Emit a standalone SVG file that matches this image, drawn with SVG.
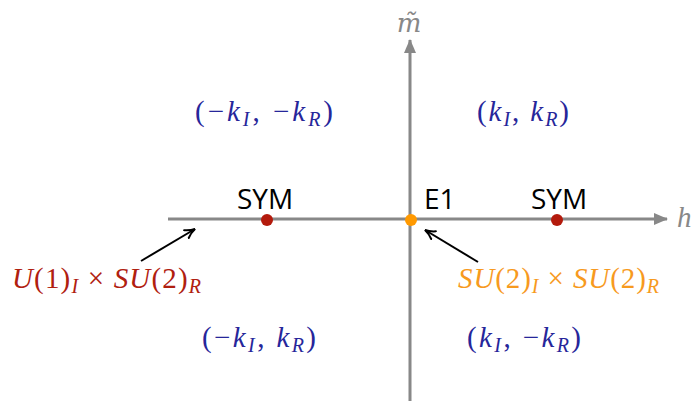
<svg xmlns="http://www.w3.org/2000/svg" width="693" height="401" viewBox="0 0 693 401">
<defs>
<marker id="grayhead" viewBox="0 0 14 12" refX="13" refY="6" markerWidth="14" markerHeight="12" markerUnits="userSpaceOnUse" orient="auto">
<path d="M0,0 L14,6 L0,12 Z" fill="#888888"/>
</marker>
<marker id="openhead" viewBox="0 0 12 12" refX="11" refY="6" markerWidth="12" markerHeight="12" markerUnits="userSpaceOnUse" orient="auto">
<path d="M1,1.5 Q6,5 11,6 Q6,7 1,10.5" fill="none" stroke="#000" stroke-width="2" stroke-linecap="round"/>
</marker>
</defs>
<style>
.axis{stroke:#888888;stroke-width:3;fill:none}
.ptr{stroke:#000;stroke-width:2;fill:none}
.sans{font-family:'Open Sans',sans-serif;font-size:28px;fill:#000}
.math{font-family:'Liberation Serif',serif;font-size:29px}
.it{font-style:italic}
.sub{font-style:italic;font-size:20px}
.blue{fill:#26269a}
.red{fill:#b0200f}
.orange{fill:#f79a1e}
.gray{fill:#888888}
</style>
<g id="connectors">
<line class="axis" x1="168" y1="219" x2="667" y2="219" marker-end="url(#grayhead)"/>
<line class="axis" x1="410" y1="401" x2="410" y2="40" marker-end="url(#grayhead)"/>
<line class="ptr" x1="141" y1="261" x2="195" y2="229" marker-end="url(#openhead)"/>
<line class="ptr" x1="478" y1="262" x2="425" y2="230" marker-end="url(#openhead)"/>
</g>
<g id="axis-h"><text class="math it gray" x="677" y="227" font-size="30">h</text></g>
<g id="axis-m"><text class="it gray" font-family="DejaVu Serif, serif" x="409" y="32" text-anchor="middle" font-size="26">m̃</text></g>
<g id="sym-left">
<circle cx="267" cy="220" r="6" fill="#b31a0c"/>
<text class="sans" x="265" y="209" text-anchor="middle">SYM</text>
</g>
<g id="e1">
<circle cx="411" cy="220" r="6" fill="#ff9900"/>
<text class="sans" x="424" y="209">E1</text>
</g>
<g id="sym-right">
<circle cx="557" cy="220" r="6" fill="#b31a0c"/>
<text class="sans" x="559" y="209" text-anchor="middle">SYM</text>
</g>
<g id="q-ul"><text class="math blue" x="195" y="121" textLength="138" lengthAdjust="spacing">(−<tspan class="it">k</tspan><tspan class="sub" dy="5">I</tspan><tspan dy="-5">, −</tspan><tspan class="it">k</tspan><tspan class="sub" dy="5">R</tspan><tspan dy="-5">)</tspan></text></g>
<g id="q-ur"><text class="math blue" x="477" y="121" textLength="92" lengthAdjust="spacing">(<tspan class="it">k</tspan><tspan class="sub" dy="5">I</tspan><tspan dy="-5">, </tspan><tspan class="it">k</tspan><tspan class="sub" dy="5">R</tspan><tspan dy="-5">)</tspan></text></g>
<g id="q-ll"><text class="math blue" x="202" y="347" textLength="114" lengthAdjust="spacing">(−<tspan class="it">k</tspan><tspan class="sub" dy="5">I</tspan><tspan dy="-5">, </tspan><tspan class="it">k</tspan><tspan class="sub" dy="5">R</tspan><tspan dy="-5">)</tspan></text></g>
<g id="q-lr"><text class="math blue" x="467" y="347" textLength="114" lengthAdjust="spacing">(<tspan class="it">k</tspan><tspan class="sub" dy="5">I</tspan><tspan dy="-5">, −</tspan><tspan class="it">k</tspan><tspan class="sub" dy="5">R</tspan><tspan dy="-5">)</tspan></text></g>
<g id="label-red"><text class="math red" x="12" y="288" textLength="189" lengthAdjust="spacing"><tspan class="it">U</tspan>(1)<tspan class="sub" dy="5">I</tspan><tspan dy="-5"> × </tspan><tspan class="it">SU</tspan>(2)<tspan class="sub" dy="5">R</tspan></text></g>
<g id="label-orange"><text class="math orange" x="458" y="288" textLength="201" lengthAdjust="spacing"><tspan class="it">SU</tspan>(2)<tspan class="sub" dy="5">I</tspan><tspan dy="-5"> × </tspan><tspan class="it">SU</tspan>(2)<tspan class="sub" dy="5">R</tspan></text></g>
</svg>
